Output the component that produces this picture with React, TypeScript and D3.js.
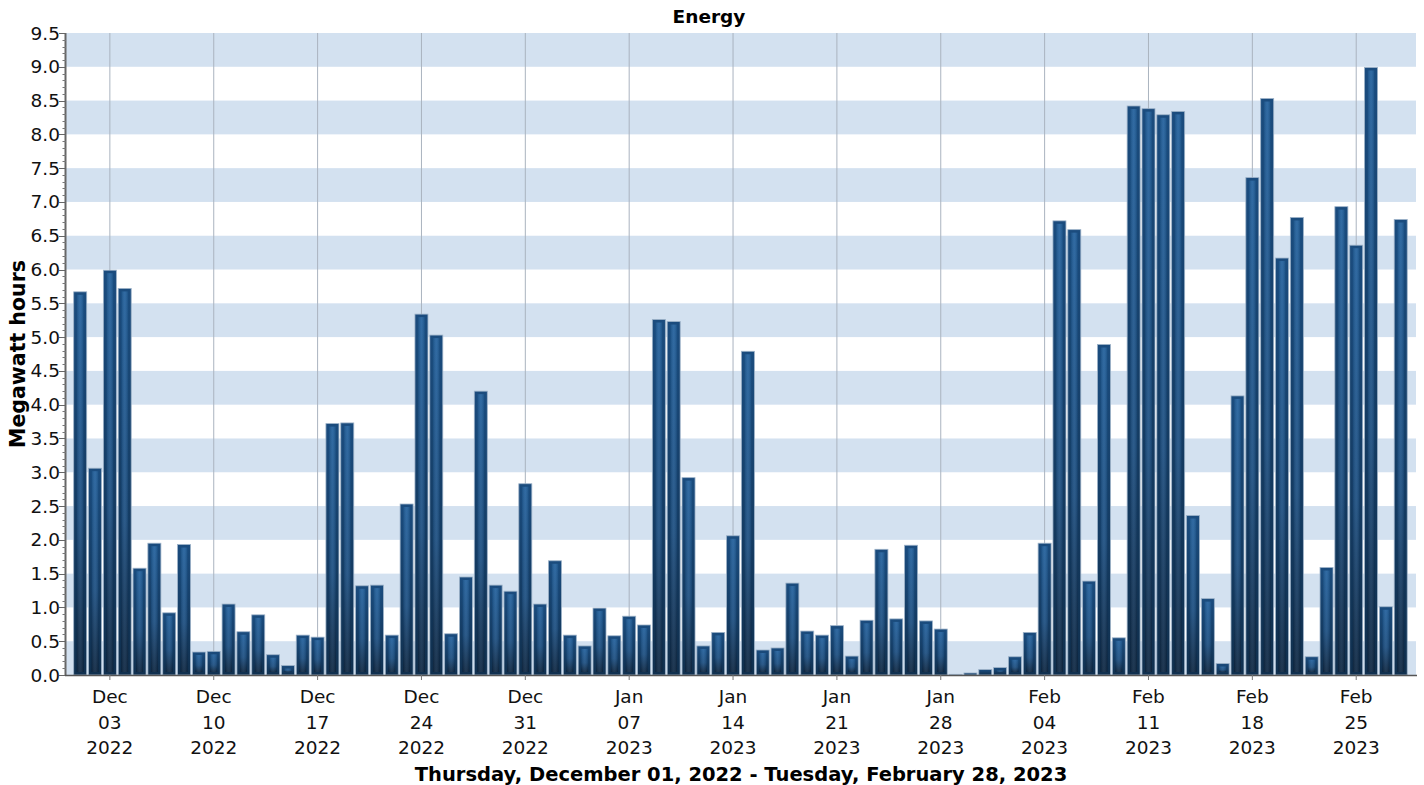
import React from "react";
import * as d3 from "d3";

const START = new Date(2022, 11, 1);
const END = new Date(2023, 2, 1);
const days: Date[] = d3.timeDay.range(START, END);

const energyMWh: number[] = [
  // Dec 2022
  5.67, 3.06, 5.99, 5.72, 1.58, 1.95, 0.92, 1.93, 0.34, 0.35,
  1.05, 0.64, 0.89, 0.30, 0.14, 0.59, 0.56, 3.72, 3.73, 1.32,
  1.33, 0.59, 2.53, 5.34, 5.03, 0.61, 1.45, 4.20, 1.33, 1.24, 2.83,
  // Jan 2023
  1.05, 1.69, 0.59, 0.43, 0.99, 0.58, 0.87, 0.74, 5.26, 5.23,
  2.92, 0.43, 0.63, 2.06, 4.79, 0.37, 0.40, 1.36, 0.65, 0.59,
  0.73, 0.28, 0.81, 1.86, 0.83, 1.92, 0.80, 0.68, 0.01, 0.03, 0.08,
  // Feb 2023
  0.11, 0.27, 0.63, 1.95, 6.72, 6.59, 1.39, 4.89, 0.55, 8.42,
  8.38, 8.29, 8.34, 2.36, 1.13, 0.17, 4.13, 7.36, 8.53, 6.17,
  6.77, 0.27, 1.59, 6.93, 6.36, 8.99, 1.01, 6.74,
];

const yTicks: number[] = d3.range(0, 9.51, 0.5);
const yMinorTicks: number[] = d3.range(0, 9.501, 0.1);
const bandStarts: number[] = d3.range(0, 9.5, 1);

const TITLE = "Energy";
const Y_TITLE = "Megawatt hours";
const X_TITLE = "Thursday, December 01, 2022 - Tuesday, February 28, 2023";

const W = 1424;
const H = 785;
const L = 66, R = 1416, T = 33, B = 675;
const FONT = "'DejaVu Sans', Verdana, sans-serif";

export default function App() {
  const x = d3.scaleLinear().domain([-0.957, days.length + 0.03]).range([L, R]);
  const y = d3.scaleLinear().domain([0, 9.5]).range([B, T]);
  const bw = 13;
  const weekTicks = d3.timeSaturday.range(START, END);
  const idx = (d: Date) => d3.timeDay.count(START, d);
  const fmtM = d3.timeFormat("%b");
  const fmtD = d3.timeFormat("%d");
  const fmtY = d3.timeFormat("%Y");

  return (
    <svg width={W} height={H} style={{ position: "absolute", left: 0, top: 0, background: "#fff" }} fontFamily={FONT}>
      <defs>
        <linearGradient id="outerG" x1="0" y1="0" x2="0" y2="1">
          <stop offset="0" stopColor="#1b4c7e" />
          <stop offset="1" stopColor="#10304f" />
        </linearGradient>
        <linearGradient id="innerG" x1="0" y1="0" x2="0" y2="1">
          <stop offset="0" stopColor="#1f5e9b" />
          <stop offset="0.6" stopColor="#1a4d80" />
          <stop offset="1" stopColor="#0c2642" />
        </linearGradient>
        <linearGradient id="hiG" x1="0" y1="0" x2="1" y2="0">
          <stop offset="0" stopColor="#000" stopOpacity="0.15" />
          <stop offset="0.5" stopColor="#fff" stopOpacity="0.08" />
          <stop offset="1" stopColor="#000" stopOpacity="0.15" />
        </linearGradient>
      </defs>

      {bandStarts.map((b) => (
        <rect key={b} x={L} y={y(b + 0.5)} width={R - L} height={y(b) - y(b + 0.5)} fill="#d3e1f0" />
      ))}

      {weekTicks.map((d) => (
        <line key={+d} x1={x(idx(d))} x2={x(idx(d))} y1={T} y2={B} stroke="#aab3bf" strokeWidth={1} />
      ))}

      {energyMWh.map((v, i) => {
        const cx = x(i);
        const top = y(v);
        const h = B - top;
        const x0 = cx - bw / 2;
        return (
          <g key={i}>
            <rect x={x0} y={top} width={bw} height={h} fill="url(#outerG)" stroke="#9db2c8" strokeWidth={0.8} />
            {h > 6 && (
              <>
                <rect x={x0 + 3} y={top + 3} width={bw - 6} height={h - 6} fill="url(#innerG)" />
                <rect x={x0 + 3} y={top + 3} width={bw - 6} height={h - 6} fill="url(#hiG)" />
              </>
            )}
          </g>
        );
      })}

      <line x1={L - 0.5} x2={L - 0.5} y1={T} y2={B} stroke="#666" strokeWidth={2} />
      {yMinorTicks.map((t) => (
        <line key={t} x1={L - 3.5} x2={L} y1={Math.round(y(t)) + 0.5} y2={Math.round(y(t)) + 0.5} stroke="#777" strokeWidth={1} />
      ))}
      {yTicks.map((t) => (
        <g key={t}>
          <line x1={L - 7} x2={L} y1={Math.round(y(t)) + 0.5} y2={Math.round(y(t)) + 0.5} stroke="#666" strokeWidth={1} />
          <text x={L - 6} y={y(t) + 6.5} textAnchor="end" fontSize={18.5} fill="#111">
            {d3.format(".1f")(t)}
          </text>
        </g>
      ))}

      <line x1={L - 1} x2={R + 1} y1={B + 0.5} y2={B + 0.5} stroke="#555" strokeWidth={1.5} />
      {weekTicks.map((d) => {
        const px = x(idx(d));
        return (
          <g key={+d}>
            <line x1={px} x2={px} y1={B} y2={B + 5} stroke="#777" strokeWidth={1} />
            <text x={px} y={703} textAnchor="middle" fontSize={18.5} fill="#111">{fmtM(d)}</text>
            <text x={px} y={728.5} textAnchor="middle" fontSize={18.5} fill="#111">{fmtD(d)}</text>
            <text x={px} y={754} textAnchor="middle" fontSize={18.5} fill="#111">{fmtY(d)}</text>
          </g>
        );
      })}

      <text x={709} y={23} textAnchor="middle" fontSize={18.5} fontWeight="bold" fill="#000">{TITLE}</text>
      <text x={741} y={781} textAnchor="middle" fontSize={19.5} fontWeight="bold" fill="#000">{X_TITLE}</text>
      <text transform={`translate(25, ${(T + B) / 2}) rotate(-90)`} textAnchor="middle" fontSize={20.5} fontWeight="bold" fill="#000">{Y_TITLE}</text>
    </svg>
  );
}
